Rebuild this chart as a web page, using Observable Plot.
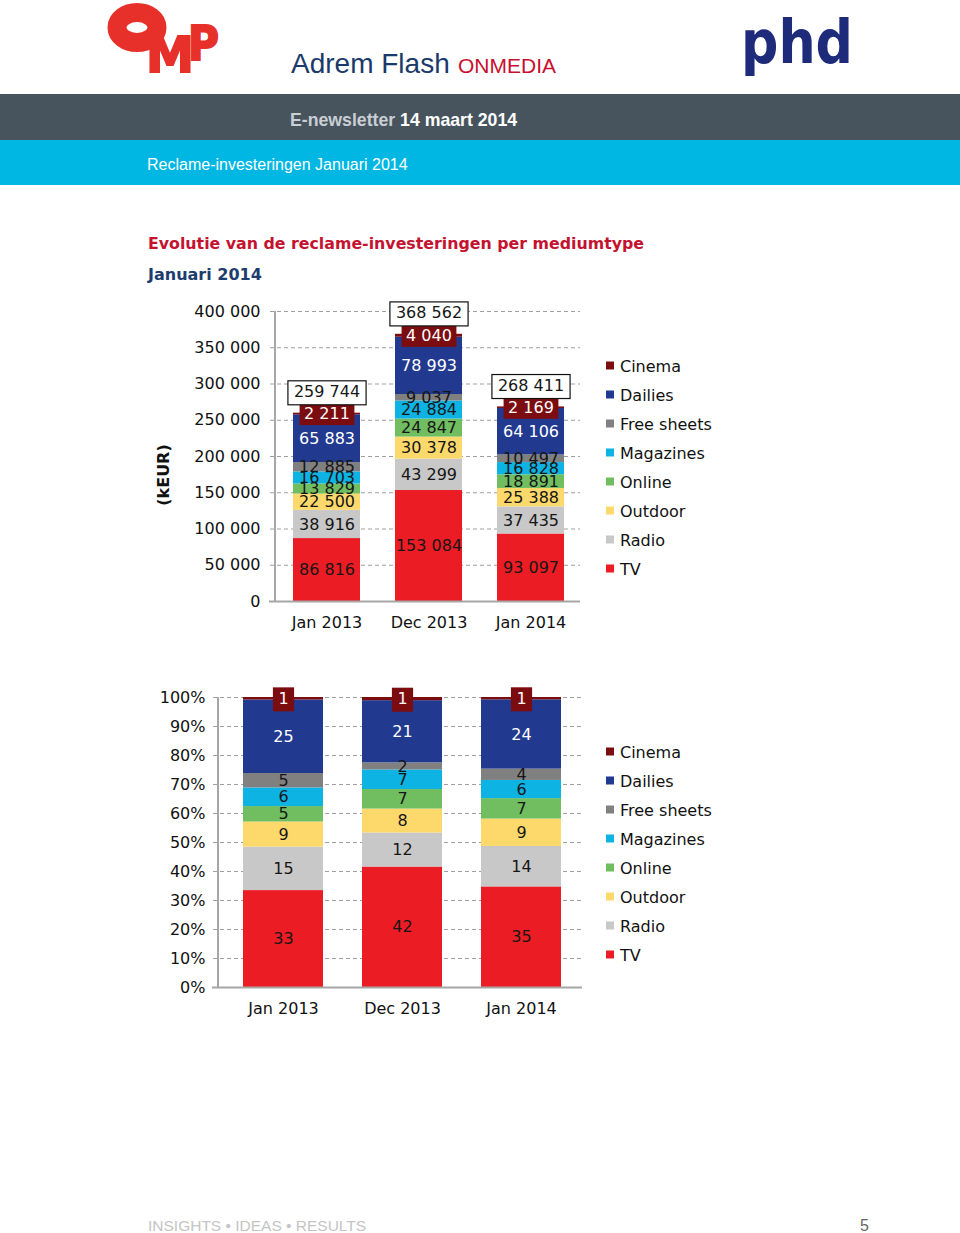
<!DOCTYPE html>
<html>
<head>
<meta charset="utf-8">
<script src="https://cdn.jsdelivr.net/npm/d3@7"></script>
<script src="https://cdn.jsdelivr.net/npm/@observablehq/plot@0.6"></script>
<style>
  body { margin: 0; background: #fff; }
  #page { position: relative; width: 960px; height: 1233px; overflow: hidden; background: #fff; }
  #bg { position: absolute; left: 0; top: 0; }
  .chart { position: absolute; width: 440px; }
  .chart svg { overflow: visible; }
</style>
</head>
<body>
<div id="page">
  <svg id="bg" width="960" height="1233"></svg>
  <div id="chart1" class="chart" style="left:150px; top:295px;"></div>
  <div id="chart2" class="chart" style="left:150px; top:680px;"></div>
</div>
<script>
// ---------- data ----------
const periods = ["Jan 2013", "Dec 2013", "Jan 2014"];
const legendMedia = ["Cinema", "Dailies", "Free sheets", "Magazines", "Online", "Outdoor", "Radio", "TV"];
const mediaColors = ["#7b0c10", "#213a8f", "#808080", "#0db3e2", "#71be61", "#fdd96b", "#c8c8c8", "#ec1c24"];
const stackOrder = ["TV", "Radio", "Outdoor", "Online", "Magazines", "Free sheets", "Dailies", "Cinema"];

// kEUR per medium, for Jan 2013 / Dec 2013 / Jan 2014
const keurTV = [86816, 153084, 93097];
const keurRadio = [38916, 43299, 37435];
const keurOutdoor = [22500, 30378, 25388];
const keurOnline = [13829, 24847, 18891];
const keurMagazines = [16703, 24884, 16828];
const keurFreeSheets = [12885, 9037, 10497];
const keurDailies = [65883, 78993, 64106];
const keurCinema = [2211, 4040, 2169];
const keurTotal = [259744, 368562, 268411];

// share labels (%) per medium
const pctTV = [33, 42, 35];
const pctRadio = [15, 12, 14];
const pctOutdoor = [9, 8, 9];
const pctOnline = [5, 7, 7];
const pctMagazines = [6, 7, 6];
const pctFreeSheets = [5, 2, 4];
const pctDailies = [25, 21, 24];
const pctCinema = [1, 1, 1];

const keurTicks = [0, 50000, 100000, 150000, 200000, 250000, 300000, 350000, 400000];
const pctTicks = [0, 0.1, 0.2, 0.3, 0.4, 0.5, 0.6, 0.7, 0.8, 0.9, 1];

// ---------- tables ----------
const keurBy = {"TV": keurTV, "Radio": keurRadio, "Outdoor": keurOutdoor, "Online": keurOnline,
  "Magazines": keurMagazines, "Free sheets": keurFreeSheets, "Dailies": keurDailies, "Cinema": keurCinema};
const pctBy = {"TV": pctTV, "Radio": pctRadio, "Outdoor": pctOutdoor, "Online": pctOnline,
  "Magazines": pctMagazines, "Free sheets": pctFreeSheets, "Dailies": pctDailies, "Cinema": pctCinema};
const rows = [];
periods.forEach((p, i) => stackOrder.forEach(m => rows.push({period: p, medium: m, keur: keurBy[m][i], pct: pctBy[m][i]})));
const totals = periods.map((p, i) => ({period: p, total: keurTotal[i]}));

const fmt = v => d3.format(",")(v).replace(/,/g, " ");
const isDark = m => m !== "Dailies" && m !== "Cinema";
const FONT = "'DejaVu Sans', Verdana, sans-serif";
const DARK = "#161616";
const CINEMA_TXT = "#fefefe";   // marker colour for boxed cinema labels
const TOTAL_TXT = "#171717";    // marker colour for boxed total labels

function addBoxes(svg, fillKey, fill, stroke, padX, h) {
  svg.querySelectorAll(`g[fill="${fillKey}"] text`).forEach(t => {
    const b = t.getBBox();
    const r = document.createElementNS("http://www.w3.org/2000/svg", "rect");
    const cy = b.y + b.height / 2 + 1;
    r.setAttribute("x", b.x - padX);
    r.setAttribute("width", b.width + 2 * padX);
    r.setAttribute("y", cy - h / 2);
    r.setAttribute("height", h);
    r.setAttribute("fill", fill);
    if (stroke) { r.setAttribute("stroke", stroke); r.setAttribute("stroke-width", 1.2); }
    else r.setAttribute("stroke", "none");
    const tr = t.getAttribute("transform");
    if (tr) r.setAttribute("transform", tr);
    t.parentNode.insertBefore(r, t);
  });
}
function addAxisLine(svg) {
  const xs = svg.scale("x"), ys = svg.scale("y");
  const x0 = xs.range[0];
  d3.select(svg).append("line")
    .attr("x1", x0).attr("x2", x0)
    .attr("y1", ys.range[0]).attr("y2", ys.range[1])
    .attr("stroke", "#a6a6a6").attr("stroke-width", 2);
}

// ---------- chart 1 ----------
const chart1 = Plot.plot({
  width: 440, height: 350,
  marginLeft: 125, marginRight: 8, marginTop: 16, marginBottom: 44,
  style: {fontFamily: FONT, fontSize: "16px", color: "#111", background: "transparent", overflow: "visible"},
  x: {domain: periods, paddingInner: 0.34, paddingOuter: 0.17, label: null, tickSize: 0, tickPadding: 15},
  y: {domain: [0, 400000], ticks: keurTicks, tickFormat: fmt, tickSize: 0, tickPadding: 15, label: null},
  color: {domain: legendMedia, range: mediaColors},
  marks: [
    Plot.ruleY(keurTicks.filter(d => d > 0), {stroke: "#9f9f9f", strokeDasharray: "4,3", insetLeft: -5, insetRight: 2}),
    Plot.barY(rows, {x: "period", y: "keur", fill: "medium"}),
    Plot.ruleY([0], {stroke: "#a6a6a6", strokeWidth: 2, insetLeft: -6, insetRight: 2}),
    Plot.text(rows, Plot.stackY({x: "period", y: "keur", text: d => isDark(d.medium) ? fmt(d.keur) : null, fill: DARK})),
    Plot.text(rows, Plot.stackY({x: "period", y: "keur", text: d => d.medium === "Dailies" ? fmt(d.keur) : null, fill: "white"})),
    Plot.text(rows, Plot.stackY({x: "period", y: "keur", text: d => d.medium === "Cinema" ? fmt(d.keur) : null, fill: CINEMA_TXT})),
    Plot.text(totals, {x: "period", y: "total", text: d => fmt(d.total), dy: -21, fill: TOTAL_TXT})
  ]
});
document.getElementById("chart1").appendChild(chart1);
addAxisLine(chart1);
addBoxes(chart1, CINEMA_TXT, "#7b0c10", null, 4.5, 21);
addBoxes(chart1, TOTAL_TXT, "#fff", "#111", 6, 24);

// ---------- chart 2 ----------
const chart2 = Plot.plot({
  width: 440, height: 350,
  marginLeft: 68, marginRight: 4, marginTop: 17, marginBottom: 43,
  style: {fontFamily: FONT, fontSize: "16px", color: "#111", background: "transparent", overflow: "visible"},
  x: {domain: periods, paddingInner: 0.33, paddingOuter: 0.2, label: null, tickSize: 0, tickPadding: 15},
  y: {domain: [0, 1], ticks: pctTicks, tickFormat: d3.format(".0%"), tickSize: 0, tickPadding: 13, label: null},
  color: {domain: legendMedia, range: mediaColors},
  marks: [
    Plot.ruleY(pctTicks.filter(d => d > 0), {stroke: "#9f9f9f", strokeDasharray: "4,3", insetLeft: -5, insetRight: 4}),
    Plot.barY(rows, Plot.stackY({x: "period", y: "keur", fill: "medium", offset: "normalize"})),
    Plot.ruleY([0], {stroke: "#a6a6a6", strokeWidth: 2, insetLeft: -6, insetRight: 4}),
    Plot.text(rows, Plot.stackY({x: "period", y: "keur", offset: "normalize", text: d => isDark(d.medium) ? String(d.pct) : null, fill: DARK})),
    Plot.text(rows, Plot.stackY({x: "period", y: "keur", offset: "normalize", text: d => d.medium === "Dailies" ? String(d.pct) : null, fill: "white"})),
    Plot.text(rows, Plot.stackY({x: "period", y: "keur", offset: "normalize", text: d => d.medium === "Cinema" ? String(d.pct) : null, fill: CINEMA_TXT}))
  ]
});
document.getElementById("chart2").appendChild(chart2);
addAxisLine(chart2);
addBoxes(chart2, CINEMA_TXT, "#7b0c10", null, 5.5, 24);

// ---------- page furniture (header, titles, legends, footer) ----------
const bg = d3.select("#bg");
const SANS = "'Liberation Sans', Arial, sans-serif";
// OMP logo (the "O" as a thick ring, M and P as letters)
bg.append("ellipse").attr("cx", 137).attr("cy", 27.5).attr("rx", 20).attr("ry", 15)
  .attr("fill", "none").attr("stroke", "#e8302a").attr("stroke-width", 19);
const omp = bg.append("g").attr("fill", "#e8302a").attr("stroke", "#e8302a").attr("font-family", FONT).attr("font-weight", "bold");
omp.append("text").attr("x", 146).attr("y", 72).attr("font-size", 50).attr("stroke-width", 2).attr("textLength", 48).attr("lengthAdjust", "spacingAndGlyphs").text("M");
omp.append("text").attr("x", 188).attr("y", 60).attr("font-size", 48).attr("stroke-width", 2).attr("textLength", 31).attr("lengthAdjust", "spacingAndGlyphs").text("P");
// phd logo
bg.append("text").attr("x", 741).attr("y", 63).attr("font-family", FONT).attr("font-weight", "bold")
  .attr("font-size", 60).attr("fill", "#1e2a7a").attr("textLength", 112).attr("lengthAdjust", "spacingAndGlyphs").text("phd");
// title line
bg.append("text").attr("x", 291).attr("y", 73).attr("font-family", SANS).attr("font-size", 28).attr("fill", "#1a3a6a").text("Adrem Flash");
bg.append("text").attr("x", 458).attr("y", 73).attr("font-family", SANS).attr("font-size", 21).attr("fill", "#c8102e").text("ONMEDIA");
// bands
bg.append("rect").attr("x", 0).attr("y", 94).attr("width", 960).attr("height", 46).attr("fill", "#47545e");
bg.append("rect").attr("x", 0).attr("y", 140).attr("width", 960).attr("height", 45).attr("fill", "#00b6e3");
const nl = bg.append("text").attr("x", 290).attr("y", 126).attr("font-family", SANS).attr("font-size", 17.7).attr("font-weight", "bold");
nl.append("tspan").attr("fill", "#c9ced3").text("E-newsletter ");
nl.append("tspan").attr("fill", "#ffffff").text("14 maart 2014");
bg.append("text").attr("x", 147).attr("y", 170).attr("font-family", SANS).attr("font-size", 16).attr("fill", "#fff").text("Reclame-investeringen Januari 2014");
// chart titles
bg.append("text").attr("x", 148).attr("y", 249).attr("font-family", FONT).attr("font-weight", "bold").attr("font-size", 15.8).attr("fill", "#c4122f").text("Evolutie van de reclame-investeringen per mediumtype");
bg.append("text").attr("x", 148).attr("y", 280).attr("font-family", FONT).attr("font-weight", "bold").attr("font-size", 16).attr("fill", "#1c3d6e").text("Januari 2014");
bg.append("text").attr("transform", "translate(168.5,475) rotate(-90)").attr("text-anchor", "middle")
  .attr("font-family", FONT).attr("font-weight", "bold").attr("font-size", 16).attr("fill", "#111").text("(kEUR)");
// legends
function legend(top) {
  const g = bg.append("g").attr("font-family", FONT).attr("font-size", 16).attr("fill", "#111");
  legendMedia.forEach((m, i) => {
    const c = top + i * 29;
    g.append("rect").attr("x", 606).attr("y", c - 4).attr("width", 8).attr("height", 8).attr("fill", mediaColors[i]);
    g.append("text").attr("x", 620).attr("y", c + 6).text(m);
  });
}
legend(365.5);
legend(751.5);
// footer
bg.append("text").attr("x", 148).attr("y", 1231).attr("font-family", SANS).attr("font-size", 15.5).attr("fill", "#c4c4c4").text("INSIGHTS • IDEAS • RESULTS");
bg.append("text").attr("x", 860).attr("y", 1231).attr("font-family", SANS).attr("font-size", 16).attr("fill", "#666").text("5");
</script>
</body>
</html>
